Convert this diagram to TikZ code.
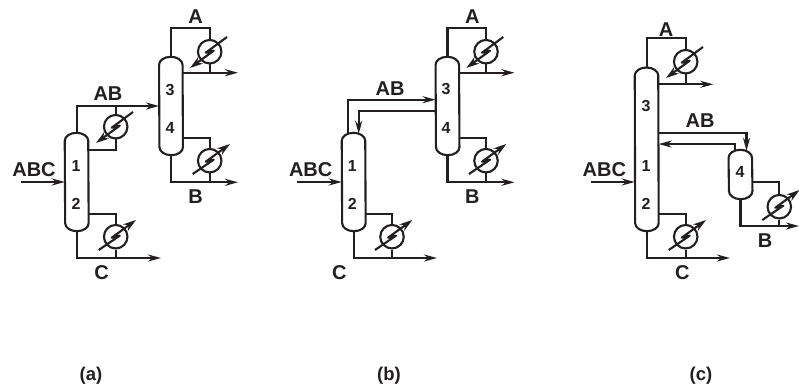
\documentclass[tikz,border=0pt]{standalone}
\usepackage{fontspec}
\setmainfont{Liberation Sans}
\usetikzlibrary{arrows.meta,calc}
\definecolor{ink}{HTML}{231F20}
\newcommand{\twenty}{\fontsize{20}{22}\selectfont\bfseries}
\newcommand{\sixteen}{\fontsize{16}{18}\selectfont\bfseries}
\tikzset{
 every node/.append style={text=ink,inner sep=0pt},
 pipe/.style={draw=ink,line width=2.1pt},
 stream/.style={pipe,-{Stealth[length=13pt,width=7pt]}},
 tower/.style={minimum width=23.5pt},
 hx/.style={circle,draw=ink,line width=2.1pt,fill=white,minimum size=23.5pt},
 hxdown/.style={pipe,line join=round,-{Stealth[length=13pt,width=8pt]}},
 hxup/.style={pipe,line join=round,{Stealth[length=13pt,width=8pt]}-},
 product/.style={font=\twenty},
 number/.style={font=\sixteen},
 caption/.style={font=\fontsize{18.5}{20}\selectfont\bfseries},
}
\begin{document}
\begin{tikzpicture}[x=1pt,y=-1pt]
\useasboundingbox (0,0) rectangle (799,387);

% columns
\foreach \n/\x/\t/\b in {a1/76.7/133/231,a2/171/57/155,b1/353.7/133/231,b2/447.5/57/155,c1/646.7/67.7/231,c2/740.5/150/199}{
  \node[tower,minimum height={(\b-\t)*1pt}] (\n) at (\x,{(\t+\b)/2}) {};
  \draw[pipe] ([yshift=-8pt]\n.north west) arc[start angle=180,end angle=0,x radius=11.75pt,y radius=8pt]
    -- ([yshift=8pt]\n.south east) arc[start angle=0,end angle=-180,x radius=11.75pt,y radius=8pt] -- cycle;
}

% exchangers
\foreach \n/\x/\y in {aCd1/115.7/126.7,aCd2/209.7/51.7,bCd2/486/51.7,cCd1/685.7/61.7}{
  \node[hx] (\n) at (\x,\y) {};
  \draw[hxdown] ([shift={(17.3,-14.7)}]\n.center) -- ([shift={(-4,1)}]\n.center)
    -- ([shift={(4,-1)}]\n.center) -- ([shift={(-19.7,16.3)}]\n.center);
}
\foreach \n/\x/\y in {aRb1/115.7/236.7,aRb2/209.7/160.7,bRb1/392/236.7,bRb2/486/160.7,cRb1/685.7/236.7,cRb2/779.3/206.7}{
  \node[hx] (\n) at (\x,\y) {};
  \draw[hxup] ([shift={(20.3,-16.7)}]\n.center) -- ([shift={(-4,1)}]\n.center)
    -- ([shift={(4,-1)}]\n.center) -- ([shift={(-17,13.3)}]\n.center);
}

% outlets and feeds
\coordinate (aOutC) at (161,258);
\coordinate (aOutB) at (238,182.3);
\coordinate (aOutA) at (238,72.7);
\coordinate (bOutC) at (437,258);
\coordinate (bOutB) at (514.5,182.3);
\coordinate (bOutA) at (514.5,72.7);
\coordinate (cOutC) at (730,258);
\coordinate (cOutB) at (799,226);
\coordinate (cOutA) at (713.3,84.3);
\coordinate (aIn) at (21,182);
\coordinate (bIn) at (297.3,182);
\coordinate (cIn) at (590.7,182);

% bottoms loops
\foreach \c/\h/\p in {a1/aRb1/aOutC,a2/aRb2/aOutB,b1/bRb1/bOutC,b2/bRb2/bOutB,c1/cRb1/cOutC,c2/cRb2/cOutB}{
  \draw[pipe] ([yshift=17pt]\c.south east) -| (\h.north);
  \draw[stream] (\c.south) |- (\p);
  \draw[pipe] (\h.south) -- (\h.south |- \p);
}
% tops loops
\foreach \c/\h/\p in {a2/aCd2/aOutA,b2/bCd2/bOutA,c1/cCd1/cOutA}{
  \draw[pipe] (\c.north) |- ([yshift=10.5pt]\h.north) -- (\h.north);
  \draw[stream] (\c.east |- \p) -- (\p);
  \draw[pipe] (\h.south) -- (\h.south |- \p);
}
\foreach \s/\c in {aIn/a1,bIn/b1,cIn/c1}
  \draw[stream,line width=2.3pt] (\s) -- (\s -| \c.west);

% (a) link
\draw[stream] (a1.north) |- (a2.west);
\draw[pipe] (aCd1.north) -- (aCd1.north |- a2.west);
\draw[pipe] (aCd1.south) |- ([yshift=-17pt]a1.north east);

% (b) link
\draw[stream] ([shift={(-6pt,-1pt)}]b1.north) |- ([yshift=6.3pt]b2.west);
\draw[stream] ([yshift=-5pt]b2.west) -| ([shift={(5pt,-1pt)}]b1.north);

% (c) link
\draw[stream] ([yshift=16pt]c1.east) -| ([shift={(6pt,-1pt)}]c2.north);
\draw[stream] ([shift={(-5.5pt,-1pt)}]c2.north) |- ([yshift=5.3pt]c1.east);

% labels
\node[product] (aLblA) at (195.7,17) {A};
\node[product] (aLblAB) at (108,94) {AB};
\node[product] (aLblABC) at (34,170) {ABC};
\node[product] (aLblB) at (195.7,196.7) {B};
\node[product] (aLblC) at (101.7,273) {C};
\node[product] (bLblA) at (472.3,17) {A};
\node[product] (bLblAB) at (390,88.7) {AB};
\node[product] (bLblABC) at (310.7,170) {ABC};
\node[product] (bLblB) at (472.3,196.7) {B};
\node[product] (bLblC) at (339.3,273) {C};
\node[product] (cLblA) at (666,29.3) {A};
\node[product] (cLblAB) at (700,120.7) {AB};
\node[product] (cLblABC) at (604.3,170) {ABC};
\node[product] (cLblB) at (765,240.7) {B};
\node[product] (cLblC) at (682.3,273) {C};

\foreach \n/\t/\x/\y in {aNum1/1/76/165.7,aNum2/2/76/204,aNum3/3/170/90,aNum4/4/170/127.7,
  bNum1/1/352.3/165.7,bNum2/2/352.3/204,bNum3/3/446/89,bNum4/4/446/127.7,
  cNum3/3/646/106,cNum1/1/646/165.7,cNum2/2/646/204,cNum4/4/740/172}
  \node[number] (\n) at (\x,\y) {\t};

\node[caption] (capA) at (91,376) {(a)};
\node[caption] (capB) at (389,376) {(b)};
\node[caption] (capC) at (701,376) {(c)};
\end{tikzpicture}
\end{document}
